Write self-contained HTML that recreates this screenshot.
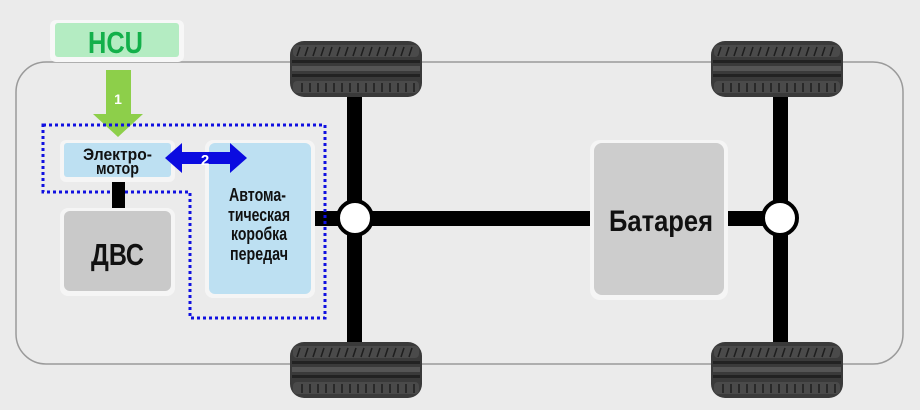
<!DOCTYPE html>
<html><head><meta charset="utf-8"><style>
body{margin:0;background:#ebebeb;}
svg{display:block}
text{font-family:"Liberation Sans",sans-serif;font-weight:bold}
</style></head><body>
<svg width="920" height="410" viewBox="0 0 920 410" xmlns="http://www.w3.org/2000/svg">
<defs>
<g id="tire">
<rect x="0" y="0" width="132" height="56" rx="14" fill="#3a3a3a"/>
<rect x="3" y="4" width="126" height="12" rx="4" fill="#4a4a4a"/>
<rect x="2" y="19" width="128" height="3" fill="#222"/>
<rect x="2" y="25" width="128" height="5" fill="#555"/>
<rect x="2" y="33" width="128" height="3" fill="#222"/>
<rect x="3" y="40" width="126" height="12" rx="4" fill="#4a4a4a"/>
<path d="M10 6l-3 9M18 6l-3 9M26 6l-3 9M34 6l-3 9M42 6l-3 9M50 6l-3 9M58 6l-3 9M66 6l-3 9M74 6l-3 9M82 6l-3 9M90 6l-3 9M98 6l-3 9M106 6l-3 9M114 6l-3 9M122 6l-3 9M12 42v9M20 42v9M28 42v9M36 42v9M44 42v9M52 42v9M60 42v9M68 42v9M76 42v9M84 42v9M92 42v9M100 42v9M108 42v9M116 42v9M124 42v9" stroke="#1e1e1e" stroke-width="1.5"/>
</g>
</defs>
<rect width="920" height="410" fill="#ebebeb"/>
<rect x="16" y="62" width="887" height="302" rx="30" fill="none" stroke="#9a9a9a" stroke-width="1.5"/>
<rect x="347" y="95" width="15" height="250" fill="#000"/>
<rect x="773" y="95" width="15" height="250" fill="#000"/>
<rect x="313" y="211" width="470" height="15" fill="#000"/>
<circle cx="355" cy="218" r="17" fill="#fff" stroke="#000" stroke-width="4"/>
<circle cx="780" cy="218" r="17" fill="#fff" stroke="#000" stroke-width="4"/>
<use href="#tire" x="290" y="41"/>
<use href="#tire" x="290" y="342"/>
<use href="#tire" x="711" y="41"/>
<use href="#tire" x="711" y="342"/>
<rect x="50" y="20" width="134" height="42" rx="6" fill="#f7f7f7"/>
<rect x="55" y="23" width="124" height="34" rx="3" fill="#b4ecc2"/>
<text x="88" y="53" font-size="31" fill="#13b04a" textLength="55" lengthAdjust="spacingAndGlyphs">HCU</text>
<path d="M106 70h25v44h12l-25 23l-25-23h13z" fill="#8dcf4a"/>
<text x="118" y="104" text-anchor="middle" font-size="14" fill="#fff">1</text>
<path d="M43 125H325V318H190V192H43Z" fill="none" stroke="#1010e0" stroke-width="3" stroke-dasharray="3 3"/>
<rect x="60" y="140" width="115" height="42" rx="6" fill="#f5f5f5"/>
<rect x="64" y="143" width="107" height="34" rx="3" fill="#bde0f2"/>
<text x="83" y="160" font-size="17" fill="#111" textLength="69" lengthAdjust="spacingAndGlyphs">Электро-</text>
<text x="96" y="174" font-size="17" fill="#111" textLength="43" lengthAdjust="spacingAndGlyphs">мотор</text>
<rect x="112" y="182" width="13" height="28" fill="#000"/>
<rect x="60" y="208" width="115" height="88" rx="8" fill="#f5f5f5"/>
<rect x="64" y="211" width="107" height="80" rx="6" fill="#c9c9c9"/>
<text x="91" y="265" font-size="31" fill="#111" textLength="53" lengthAdjust="spacingAndGlyphs">ДВС</text>
<rect x="205" y="140" width="110" height="158" rx="8" fill="#f5f5f5"/>
<rect x="209" y="143" width="102" height="151" rx="6" fill="#bde0f2"/>
<g font-size="18" fill="#111">
<text x="229" y="201" textLength="57" lengthAdjust="spacingAndGlyphs">Автома-</text>
<text x="228" y="221" textLength="62" lengthAdjust="spacingAndGlyphs">тическая</text>
<text x="231" y="240" textLength="56" lengthAdjust="spacingAndGlyphs">коробка</text>
<text x="230" y="260" textLength="58" lengthAdjust="spacingAndGlyphs">передач</text>
</g>
<path d="M165 158l17-15v9h48v-9l17 15l-17 15v-9h-48v9z" fill="#0b0be0"/>
<text x="205" y="165" text-anchor="middle" font-size="15" fill="#fff">2</text>
<rect x="590" y="140" width="138" height="160" rx="10" fill="#f5f5f5"/>
<rect x="594" y="143" width="130" height="152" rx="8" fill="#cdcdcd"/>
<text x="609" y="231" font-size="30" fill="#111" textLength="104" lengthAdjust="spacingAndGlyphs">Батарея</text>
</svg>
</body></html>
